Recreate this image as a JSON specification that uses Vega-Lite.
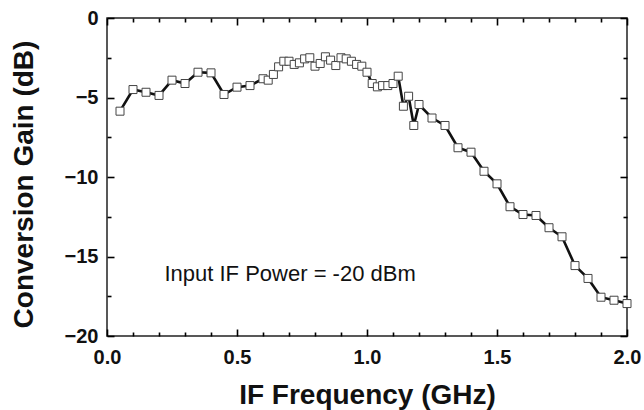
{
  "$schema": "https://vega.github.io/schema/vega-lite/v6.json",
  "width": 520,
  "height": 318,
  "autosize": {"type": "none"},
  "padding": {"left": 107, "top": 18, "right": 17, "bottom": 74},
  "background": "white",
  "config": {
    "view": {"stroke": "#222", "strokeWidth": 1.5},
    "font": "Liberation Sans",
    "axis": {"domain": false, "ticks": true, "tickColor": "#000", "tickWidth": 1.6, "tickOpacity": 1, "zindex": 1, "grid": false, "labelFlush": false,
             "labelFont": "Liberation Sans", "labelFontWeight": "bold", "labelFontSize": 20, "labelColor": "#111",
             "titleFont": "Liberation Sans", "titleFontWeight": "bold", "titleFontSize": 28, "titleColor": "#111"}
  },
  "data": {"values": [
    {"f": 0.05, "g": -5.86}, {"f": 0.10, "g": -4.50}, {"f": 0.15, "g": -4.67}, {"f": 0.20, "g": -4.87},
    {"f": 0.25, "g": -3.91}, {"f": 0.30, "g": -4.12}, {"f": 0.35, "g": -3.41}, {"f": 0.40, "g": -3.45},
    {"f": 0.45, "g": -4.81}, {"f": 0.50, "g": -4.35}, {"f": 0.55, "g": -4.25}, {"f": 0.60, "g": -3.82},
    {"f": 0.62, "g": -3.91}, {"f": 0.64, "g": -3.55}, {"f": 0.66, "g": -3.07}, {"f": 0.68, "g": -2.72},
    {"f": 0.70, "g": -2.72}, {"f": 0.72, "g": -2.92}, {"f": 0.74, "g": -2.82}, {"f": 0.76, "g": -2.57},
    {"f": 0.78, "g": -2.50}, {"f": 0.80, "g": -3.03}, {"f": 0.82, "g": -2.86}, {"f": 0.84, "g": -2.44},
    {"f": 0.86, "g": -2.65}, {"f": 0.88, "g": -2.99}, {"f": 0.90, "g": -2.50}, {"f": 0.92, "g": -2.57},
    {"f": 0.94, "g": -2.72}, {"f": 0.96, "g": -2.92}, {"f": 0.98, "g": -3.03}, {"f": 1.00, "g": -3.41},
    {"f": 1.02, "g": -4.12}, {"f": 1.04, "g": -4.33}, {"f": 1.06, "g": -4.25}, {"f": 1.08, "g": -4.25},
    {"f": 1.10, "g": -4.12}, {"f": 1.12, "g": -3.66}, {"f": 1.14, "g": -5.55}, {"f": 1.16, "g": -4.92},
    {"f": 1.18, "g": -6.76}, {"f": 1.20, "g": -5.44}, {"f": 1.25, "g": -6.29}, {"f": 1.30, "g": -6.76},
    {"f": 1.35, "g": -8.16}, {"f": 1.40, "g": -8.44}, {"f": 1.45, "g": -9.64}, {"f": 1.50, "g": -10.43},
    {"f": 1.55, "g": -11.87}, {"f": 1.60, "g": -12.36}, {"f": 1.65, "g": -12.42}, {"f": 1.70, "g": -13.19},
    {"f": 1.75, "g": -13.76}, {"f": 1.80, "g": -15.57}, {"f": 1.85, "g": -16.38}, {"f": 1.90, "g": -17.56},
    {"f": 1.95, "g": -17.75}, {"f": 2.00, "g": -17.96}
  ]},
  "resolve": {"axis": {"x": "independent", "y": "independent"}},
  "layer": [
    {
      "mark": {"type": "line", "color": "#111", "strokeWidth": 2.6},
      "encoding": {
        "x": {"field": "f", "type": "quantitative", "scale": {"domain": [0, 2], "nice": false, "zero": false},
              "axis": {"orient": "bottom", "title": "IF Frequency (GHz)", "titlePadding": 14, "labelPadding": 11, "offset": -7,
                       "values": [0, 0.5, 1, 1.5, 2], "format": ".1f", "tickSize": 7}},
        "y": {"field": "g", "type": "quantitative", "scale": {"domain": [-20, 0], "nice": false, "zero": false},
              "axis": {"orient": "left", "title": "Conversion Gain (dB)", "titlePadding": 26, "labelPadding": 9, "offset": -7,
                       "titleY": 166, "values": [-20, -15, -10, -5, 0], "format": "d", "tickSize": 7}}
      }
    },
    {
      "mark": {"type": "square", "size": 64, "filled": true, "fill": "white", "stroke": "#444", "strokeWidth": 1, "opacity": 1},
      "encoding": {
        "x": {"field": "f", "type": "quantitative",
              "axis": {"orient": "top", "title": null, "labels": false, "offset": -7, "values": [0, 0.5, 1, 1.5, 2], "tickSize": 7}},
        "y": {"field": "g", "type": "quantitative",
              "axis": {"orient": "right", "title": null, "labels": false, "offset": -7, "values": [-20, -15, -10, -5, 0], "tickSize": 7}}
      }
    },
    {
      "mark": {"type": "point", "opacity": 0},
      "encoding": {
        "x": {"field": "f", "type": "quantitative",
              "axis": {"orient": "bottom", "title": null, "labels": false, "offset": -4, "tickSize": 4,
                       "values": [0.1,0.2,0.3,0.4,0.6,0.7,0.8,0.9,1.1,1.2,1.3,1.4,1.6,1.7,1.8,1.9]}},
        "y": {"field": "g", "type": "quantitative",
              "axis": {"orient": "left", "title": null, "labels": false, "offset": -4, "tickSize": 4,
                       "values": [-17.5, -12.5, -7.5, -2.5]}}
      }
    },
    {
      "data": {"values": [{"label": "Input IF Power = -20 dBm"}]},
      "mark": {"type": "text", "align": "left", "baseline": "alphabetic", "font": "Liberation Sans", "fontSize": 22, "color": "#111"},
      "encoding": {
        "x": {"datum": 0.221, "type": "quantitative",
              "axis": {"orient": "top", "title": null, "labels": false, "offset": -4, "tickSize": 4,
                       "values": [0.1,0.2,0.3,0.4,0.6,0.7,0.8,0.9,1.1,1.2,1.3,1.4,1.6,1.7,1.8,1.9]}},
        "y": {"datum": -16.55, "type": "quantitative",
              "axis": {"orient": "right", "title": null, "labels": false, "offset": -4, "tickSize": 4,
                       "values": [-17.5, -12.5, -7.5, -2.5]}},
        "text": {"field": "label"}
      }
    }
  ]
}
